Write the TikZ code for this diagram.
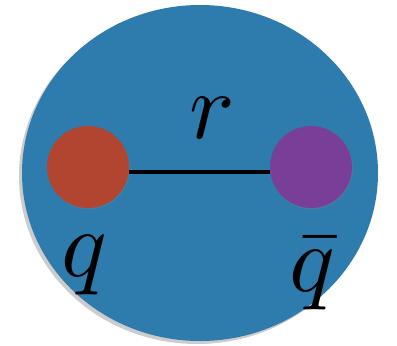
\documentclass[tikz,border=0pt]{standalone}
\usetikzlibrary{shadows}
\definecolor{bgblue}{HTML}{2E7BAE}
\definecolor{qred}{HTML}{B2452F}
\definecolor{qpurple}{HTML}{783E98}
\tikzset{
  blob/.style={circle,minimum size=82pt,inner sep=0pt,draw=none,drop shadow={shadow xshift=1pt,shadow yshift=-1.5pt,opacity=0.3}},
  lbl/.style={inner sep=0pt}
}
\newcommand{\hugemath}[1]{\scalebox{9.5}{$#1$}}
\begin{document}
\begin{tikzpicture}[x=1pt,y=-1pt]
\useasboundingbox (0,0) rectangle (397,346);
\fill[black,opacity=0.2] (197,176) ellipse [x radius=178, y radius=168];
\fill[bgblue] (200,173) ellipse [x radius=178, y radius=168];
\node[blob,fill=qred] (q) at (88,167) {};
\node[blob,fill=qpurple] (qb) at (311,167) {};
\draw[line width=4pt] ([yshift=-5pt]q.east) -- ([yshift=-5pt]qb.west);
\node[lbl] (r) at (212,118) {\hugemath{r}};
\node[lbl] (ql) at (84,265) {\hugemath{q}};
\node[lbl] (qbl) at (312,274) {\hugemath{\bar q}};
\end{tikzpicture}
\end{document}
